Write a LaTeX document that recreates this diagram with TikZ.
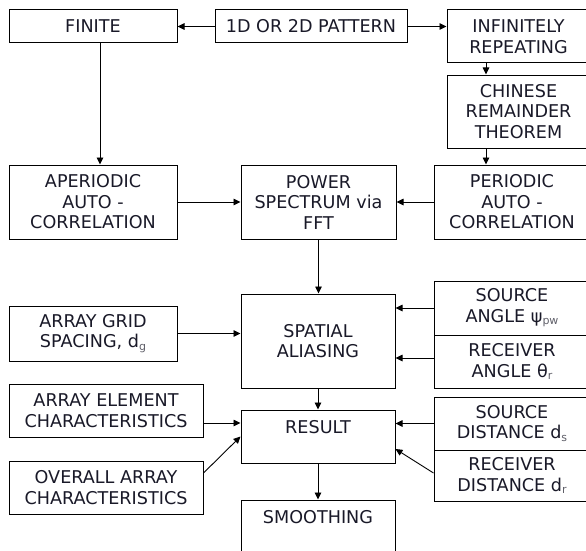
\documentclass[tikz,border=0pt]{standalone}
\usepackage{fontspec}
\setmainfont{DejaVu Sans}
\usetikzlibrary{arrows.meta}
\definecolor{txt}{RGB}{25,25,40}
\definecolor{subgray}{RGB}{95,95,105}
\newcommand{\sbs}[1]{\raisebox{-2.5pt}{\fontsize{11}{11}\selectfont\color{subgray}#1}}
\begin{document}
\begin{tikzpicture}[x=1pt,y=-1pt,
  box/.style={draw=black, line width=1pt, inner sep=0pt, align=center, text=txt,
    font=\fontsize{17.6}{20.5}\selectfont},
  lbl/.style={inner sep=0pt, align=center, text=txt, font=\fontsize{17.6}{20.5}\selectfont},
  arr/.style={line width=0.9pt, -{Triangle[length=7pt,width=6.5pt]}}]
\useasboundingbox (0,0) rectangle (586,551);
% boxes
\node[box, minimum width=168, minimum height=33] (finite) at (93,26.5) {FINITE};
\node[box, minimum width=192, minimum height=33] (pattern) at (311,26.5) {1D OR 2D PATTERN};
\node[box, minimum width=143, minimum height=53] (infinite) at (518.5,36.5) {INFINITELY\\REPEATING};
\node[box, minimum width=143, minimum height=73] (chinese) at (518.5,111.5) {CHINESE\\REMAINDER\\THEOREM};
\node[box, minimum width=156, minimum height=74] (periodic) at (512,202) {PERIODIC\\AUTO -\\CORRELATION};
\node[box, minimum width=155, minimum height=74] (power) at (318.5,202) {POWER\\SPECTRUM via\\FFT};
\node[box, minimum width=168, minimum height=74] (aper) at (93,202) {APERIODIC\\AUTO -\\CORRELATION};
\node[box, minimum width=168, minimum height=55] (grid) at (93,333.5) {ARRAY GRID\\SPACING, d\sbs{g}};
\node[box, minimum width=154, minimum height=94] (spatial) at (318,341) {SPATIAL\\ALIASING};
\node[box, minimum width=194, minimum height=53] (element) at (106,410.5) {ARRAY ELEMENT\\CHARACTERISTICS};
\node[box, minimum width=194, minimum height=53] (overall) at (106,487.5) {OVERALL ARRAY\\CHARACTERISTICS};
\node[box, minimum width=154, minimum height=53] (result) at (318,436.5) {};
\node[lbl] (resulttext) at (318,427) {RESULT};
\node[box, minimum width=154, minimum height=80] (smooth) at (318,540) {};
\node[lbl] (smoothtext) at (318,517) {SMOOTHING};
\node[box, minimum width=156, minimum height=54] (srcang) at (512,308) {SOURCE\\ANGLE ψ\sbs{pw}};
\node[box, minimum width=156, minimum height=53] (rcvang) at (512,361.5) {RECEIVER\\ANGLE θ\sbs{r}};
\node[box, minimum width=156, minimum height=53] (srcdist) at (512,423.5) {SOURCE\\DISTANCE d\sbs{s}};
\node[box, minimum width=156, minimum height=51] (rcvdist) at (512,475.5) {RECEIVER\\DISTANCE d\sbs{r}};
% connectors
\draw[arr] (pattern.west) -- (finite.east);
\draw[arr] (pattern.east) -- (pattern.east -| infinite.west);
\draw[arr] ([xshift=-32.5pt]infinite.south) -- ([xshift=-32.5pt]chinese.north);
\draw[arr] ([xshift=-32.5pt]chinese.south) -- ([xshift=-32.5pt]chinese.south |- periodic.north);
\draw[arr] ([xshift=7pt]finite.south) -- ([xshift=7pt]aper.north);
\draw[arr] (aper.east) -- (power.west);
\draw[arr] (periodic.west) -- (power.east);
\draw[arr] (power.south) -- (power.south |- spatial.north);
\draw[arr] (grid.east) -- (grid.east -| spatial.west);
\draw[arr] (srcang.west) -- (srcang.west -| spatial.east);
\draw[arr] ([yshift=3.5pt]rcvang.west) -- ([yshift=3.5pt]rcvang.west -| spatial.east);
\draw[arr] (spatial.south) -- (result.north);
\draw[arr] ([yshift=-12.5pt]element.east) -- ([yshift=-12.5pt]element.east -| result.west);
\draw[arr] ([yshift=14.5pt]overall.east) -- (result.west);
\draw[arr] (srcdist.west) -- (srcdist.west -| result.east);
\draw[arr] ([yshift=2.5pt]rcvdist.west) -- ([yshift=-12.5pt]result.east);
\draw[arr] (result.south) -- (smooth.north);
\end{tikzpicture}
\end{document}
